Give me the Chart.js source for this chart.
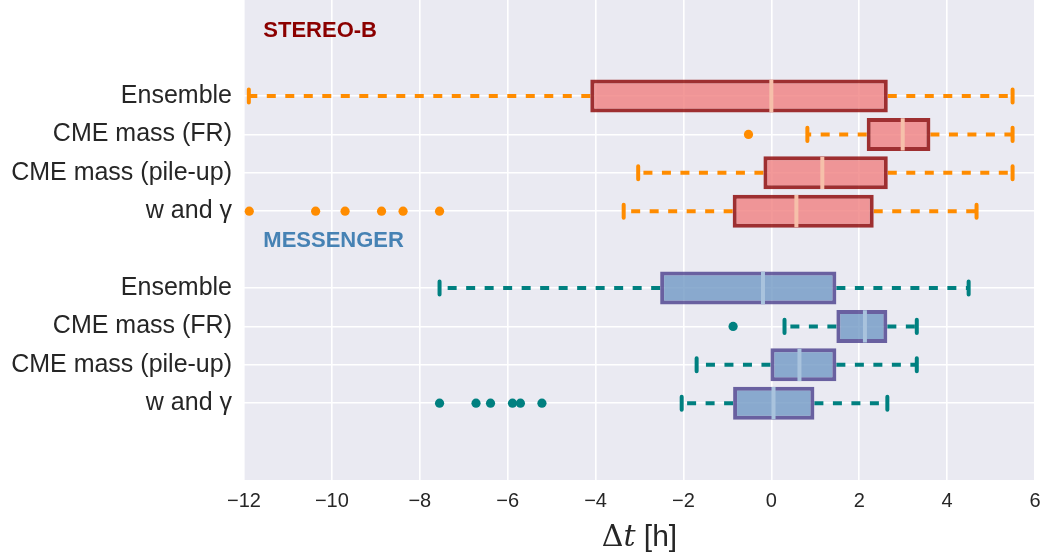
<!DOCTYPE html>
<html>
<head>
<meta charset="utf-8">
<script src="https://cdn.jsdelivr.net/npm/chart.js@4/dist/chart.umd.min.js"></script>
<style>
html, body { margin: 0; padding: 0; background: #ffffff; }
#wrap { width: 1044px; height: 554px; position: relative; }
</style>
</head>
<body>
<div id="wrap"><canvas id="c"></canvas></div>
<script>
// ---------------- data ----------------
const groupNames = ['STEREO-B', 'MESSENGER'];
const categories = ['Ensemble', 'CME mass (FR)', 'CME mass (pile-up)', 'w and \u03B3'];

const stereoLow      = [-11.89, 0.82, -3.03, -3.36];
const stereoQ1       = [-4.12, 2.17, -0.18, -0.88];
const stereoMedian   = [0.00, 2.99, 1.16, 0.57];
const stereoQ3       = [2.65, 3.62, 2.65, 2.33];
const stereoHigh     = [5.49, 5.49, 5.49, 4.67];
const stereoOutliers = [[], [-0.52], [], [-11.88, -10.37, -9.70, -8.87, -8.38, -7.55]];

const messLow      = [-7.55, 0.30, -1.70, -2.04];
const messQ1       = [-2.53, 1.48, -0.02, -0.87];
const messMedian   = [-0.19, 2.13, 0.64, 0.05];
const messQ3       = [1.48, 2.64, 1.48, 0.98];
const messHigh     = [4.49, 3.31, 3.31, 2.64];
const messOutliers = [[], [-0.87], [], [-7.55, -6.72, -6.39, -5.89, -5.71, -5.22]];

const xTicks = [-12, -10, -8, -6, -4, -2, 0, 2, 4, 6];
const xTickLabels = ['\u221212', '\u221210', '\u22128', '\u22126', '\u22124', '\u22122', '0', '2', '4', '6'];

// ---------------- styling ----------------
const FONT = "'Liberation Sans', Arial, sans-serif";
const styles = [
  { fill: 'rgba(240,128,128,0.8)', edge: 'rgba(139,0,0,0.8)', median: '#F6C0AA', whisker: '#FF8C00', label: '#8B0000' },
  { fill: 'rgba(112,152,196,0.8)', edge: 'rgba(72,61,139,0.8)', median: '#A9C3DD', whisker: '#008080', label: '#4682B4' }
];
const groupData = [
  { low: stereoLow, q1: stereoQ1, med: stereoMedian, q3: stereoQ3, high: stereoHigh, out: stereoOutliers },
  { low: messLow, q1: messQ1, med: messMedian, q3: messQ3, high: messHigh, out: messOutliers }
];
// row position (category units) for group g, row i
const rowPos = (g, i) => 2.5 + g * 5 + i;
const Y_MAX = 12.5;
const yTickValues = [];
const yTickLabels = [];
groupData.forEach((gd, g) => categories.forEach((c, i) => { yTickValues.push(rowPos(g, i)); yTickLabels.push(c); }));

const datasets = [];
groupData.forEach((gd, g) => {
  const st = styles[g];
  // boxes
  datasets.push({
    type: 'bar', indexAxis: 'y', order: 3, grouped: false,
    data: categories.map((c, i) => ({ x: [gd.q1[i], gd.q3[i]], y: rowPos(g, i) })),
    backgroundColor: st.fill, borderColor: st.edge, borderWidth: 4, borderSkipped: false,
    barThickness: 33, inflateAmount: 0
  });
  categories.forEach((c, i) => {
    const p = rowPos(g, i);
    // whiskers (from box edge out to the cap)
    [[gd.q1[i], gd.low[i]], [gd.q3[i], gd.high[i]]].forEach(([a, b]) => {
      datasets.push({
        type: 'line', order: 5,
        data: [{ x: a, y: p }, { x: b, y: p }],
        borderColor: st.whisker, borderWidth: 4, borderDash: [9, 9.5], borderCapStyle: 'butt',
        pointRadius: 0, fill: false, tension: 0
      });
    });
    // caps
    [gd.low[i], gd.high[i]].forEach(v => {
      datasets.push({
        type: 'line', order: 4,
        data: [{ x: v, y: p - 0.17 }, { x: v, y: p + 0.17 }],
        borderColor: st.whisker, borderWidth: 4, borderCapStyle: 'round',
        pointRadius: 0, fill: false
      });
    });
    // median
    datasets.push({
      type: 'line', order: 1,
      data: [{ x: gd.med[i], y: p - 0.42 }, { x: gd.med[i], y: p + 0.42 }],
      borderColor: st.median, borderWidth: 4, borderCapStyle: 'butt',
      pointRadius: 0, fill: false
    });
  });
  // outliers
  const pts = [];
  gd.out.forEach((arr, i) => arr.forEach(v => pts.push({ x: v, y: rowPos(g, i) })));
  datasets.push({
    type: 'scatter', order: 2, data: pts,
    backgroundColor: st.whisker, borderWidth: 0, pointRadius: 4.6, showLine: false
  });
});

const annotations = [
  { text: groupNames[0], x: -11.56, y: 0.8, color: styles[0].label },
  { text: groupNames[1], x: -11.56, y: 6.27, color: styles[1].label }
];

const bgPlugin = {
  id: 'bg',
  beforeDraw(chart) {
    const { ctx, chartArea: a } = chart;
    ctx.save();
    ctx.fillStyle = '#EAEAF2';
    ctx.fillRect(a.left, a.top, a.right - a.left, a.bottom - a.top);
    ctx.restore();
  },
  afterDraw(chart) {
    const { ctx, chartArea: a } = chart;
    const xs = chart.scales.x, ys = chart.scales.y;
    ctx.save();
    ctx.textBaseline = 'middle';
    ctx.textAlign = 'left';
    ctx.font = "bold 22px " + FONT;
    annotations.forEach(an => {
      ctx.fillStyle = an.color;
      ctx.fillText(an.text, xs.getPixelForValue(an.x), ys.getPixelForValue(an.y));
    });
    // x axis title: Δt [h]
    const parts = [
      { t: '\u0394', f: "30px 'DejaVu Serif', serif" },
      { t: 't', f: "italic 30px 'DejaVu Serif', serif" },
      { t: ' [h]', f: "30px " + FONT }
    ];
    let w = 0;
    parts.forEach(p => { ctx.font = p.f; p.w = ctx.measureText(p.t).width; w += p.w; });
    let x = (a.left + a.right) / 2 - w / 2;
    ctx.fillStyle = '#262626';
    ctx.textBaseline = 'alphabetic';
    parts.forEach(p => { ctx.font = p.f; ctx.fillText(p.t, x, 546); x += p.w; });
    ctx.restore();
  }
};

new Chart(document.getElementById('c'), {
  type: 'bar',
  data: { datasets },
  options: {
    responsive: true, maintainAspectRatio: false, animation: false,
    layout: { autoPadding: false, padding: { top: 0, right: 9, bottom: 0, left: 0 } },
    plugins: { legend: { display: false }, tooltip: { enabled: false } },
    scales: {
      x: {
        type: 'linear', min: -12, max: 6, offset: false,
        afterFit(s) { s.height = 74; s.paddingLeft = 0; s.paddingRight = 0; },
        afterBuildTicks(s) { s.ticks = xTicks.map(v => ({ value: v })); },
        ticks: {
          padding: 9, color: '#262626', font: { family: FONT, size: 20 },
          maxRotation: 0, autoSkip: false,
          callback: (v) => { const k = xTicks.indexOf(v); return k >= 0 ? xTickLabels[k] : ''; }
        },
        grid: { color: '#FFFFFF', lineWidth: 1.6, drawTicks: false, offset: false },
        border: { display: false }
      },
      y: {
        type: 'linear', min: 0, max: Y_MAX, reverse: true, offset: false,
        afterFit(s) { s.width = 244; s.paddingTop = 0; s.paddingBottom = 0; },
        afterBuildTicks(s) { s.ticks = yTickValues.map(v => ({ value: v })); },
        ticks: {
          padding: 12, color: '#262626', font: { family: FONT, size: 25 }, autoSkip: false,
          callback: (v) => { const k = yTickValues.indexOf(v); return k >= 0 ? yTickLabels[k] : ''; }
        },
        grid: { color: '#FFFFFF', lineWidth: 1.6, drawTicks: false, offset: false },
        border: { display: false }
      }
    }
  },
  plugins: [bgPlugin]
});
</script>
</body>
</html>
